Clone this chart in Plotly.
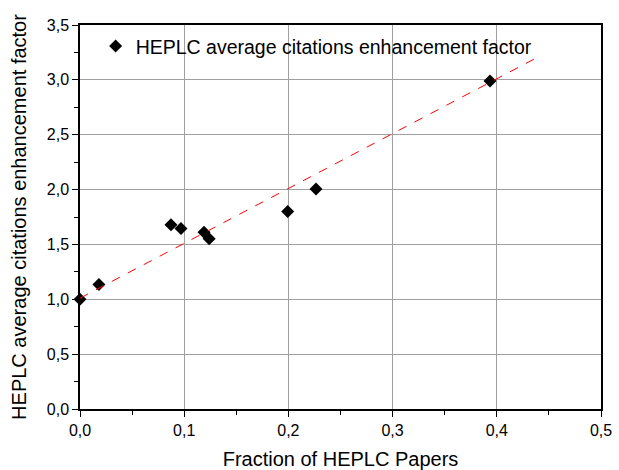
import plotly.graph_objects as go

frac = [0.0, 0.0182, 0.0873, 0.0969, 0.119, 0.124, 0.1993, 0.2265, 0.3935]
factor = [1.0, 1.135, 1.68, 1.645, 1.61, 1.552, 1.80, 2.005, 2.99]
fit_x = [0.0, 0.438]
fit_y = [1.01, 3.20]

fig = go.Figure()
fig.add_trace(go.Scatter(
    x=frac, y=factor, mode="markers",
    marker=dict(symbol="diamond", size=10, color="black"),
    name="HEPLC average citations enhancement factor",
    cliponaxis=False,
))
fig.add_trace(go.Scatter(
    x=fit_x, y=fit_y, mode="lines",
    line=dict(color="red", width=1, dash="dash"),
    showlegend=False,
))

font = "Liberation Sans, Arial, sans-serif"
fig.update_layout(
    width=619, height=470,
    margin=dict(l=80, r=18, t=25, b=61),
    paper_bgcolor="white", plot_bgcolor="white",
    separators=",.",
    font=dict(family=font, size=16, color="black"),
    legend=dict(x=0.03, y=0.995, xanchor="left", yanchor="top",
                bgcolor="rgba(0,0,0,0)", font=dict(size=19.5)),
    xaxis=dict(
        range=[0, 0.5], dtick=0.1, tickformat=".1f", automargin=False,
        showgrid=True, gridcolor="#a0a0a0", gridwidth=1,
        showline=True, linecolor="black", linewidth=1.5, mirror=True,
        ticks="outside", ticklen=6, tickcolor="black",
        minor=dict(dtick=0.05, ticks="outside", ticklen=4, tickcolor="black", showgrid=False),
        zeroline=False,
        title=dict(text="Fraction of HEPLC Papers", font=dict(size=20)),
        tickfont=dict(size=16),
    ),
    yaxis=dict(
        range=[0, 3.5], dtick=0.5, tickformat=".1f", automargin=False,
        showgrid=True, gridcolor="#a0a0a0", gridwidth=1,
        showline=True, linecolor="black", linewidth=1.5, mirror=True,
        ticks="outside", ticklen=6, tickcolor="black",
        minor=dict(dtick=0.25, ticks="outside", ticklen=4, tickcolor="black", showgrid=False),
        zeroline=False,
        title=dict(text="HEPLC average citations enhancement factor", font=dict(size=20)),
        tickfont=dict(size=16),
    ),
)
fig.write_html("out.html")
